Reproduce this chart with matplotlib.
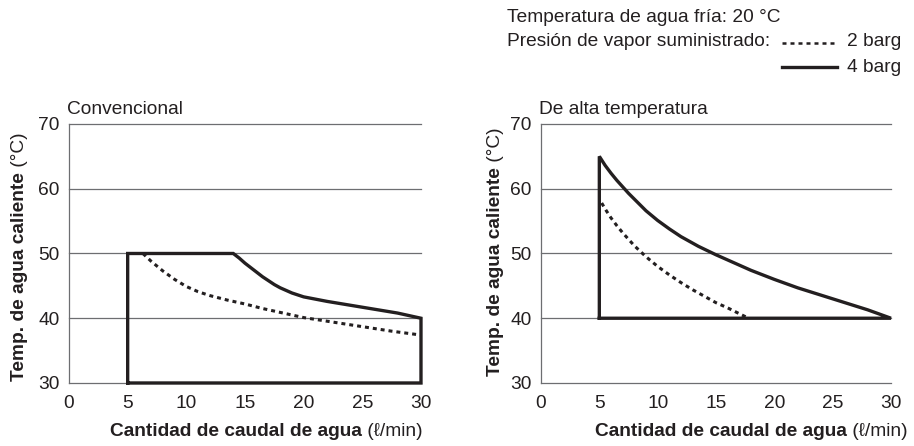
import matplotlib
matplotlib.use('Agg')
import matplotlib.pyplot as plt

plt.rcParams['font.family'] = ['Liberation Sans', 'DejaVu Sans']
txtc = '#231f20'
gridc = '#6d6e71'
fs = 13.8

# Convencional
conv_4_x = [5, 5, 14, 14.5, 15, 15.5, 16, 16.5, 17, 17.5, 18, 19, 20, 22, 25, 28, 30, 30, 5]
conv_4_y = [30, 50, 50, 49.3, 48.5, 47.8, 47.1, 46.4, 45.8, 45.2, 44.7, 43.9, 43.3, 42.6, 41.7, 40.8, 40, 30, 30]
conv_2_x = [6.3, 7, 8, 9, 10, 11, 12, 13.5, 15, 16.5, 18, 20, 22.5, 25, 27.5, 30]
conv_2_y = [50, 48.8, 47.3, 46.0, 44.9, 44.1, 43.5, 42.8, 42.2, 41.5, 40.9, 40.1, 39.4, 38.7, 38.0, 37.4]

# De alta temperatura
alta_4_x = [5, 5, 5.5, 6, 6.5, 7, 7.5, 8, 9, 10, 11, 12, 13.5, 15, 16.5, 18, 20, 22, 25, 28, 30, 5]
alta_4_y = [40, 65, 63.6, 62.4, 61.3, 60.3, 59.3, 58.4, 56.6, 55.1, 53.8, 52.6, 51.1, 49.8, 48.6, 47.4, 46.0, 44.7, 43.0, 41.3, 40, 40]
alta_2_x = [5.2, 5.6, 6, 6.5, 7, 7.5, 8, 9, 10, 11, 12, 13, 14, 15, 16, 17, 17.8]
alta_2_y = [57.8, 56.6, 55.5, 54.3, 53.2, 52.2, 51.2, 49.5, 48.0, 46.7, 45.5, 44.4, 43.4, 42.4, 41.6, 40.7, 40]

xticks = [0, 5, 10, 15, 20, 25, 30]
yticks = [30, 40, 50, 60, 70]
titles = ['Convencional', 'De alta temperatura']

fig = plt.figure(figsize=(9.14, 4.46), dpi=100)
ax1 = fig.add_axes([0.0755, 0.1413, 0.3851, 0.5807])
ax2 = fig.add_axes([0.5919, 0.1413, 0.3829, 0.5807])

series = [(conv_4_x, conv_4_y, conv_2_x, conv_2_y),
          (alta_4_x, alta_4_y, alta_2_x, alta_2_y)]

for ax, (sx, sy, dx, dy), title in zip([ax1, ax2], series, titles):
    ax.set_xlim(0, 30)
    ax.set_ylim(30, 70)
    ax.set_xticks(xticks)
    ax.set_yticks(yticks)
    for y in yticks:
        ax.axhline(y, color=gridc, lw=0.9, zorder=1, clip_on=False)
    for s in ['top', 'right', 'bottom']:
        ax.spines[s].set_visible(False)
    ax.spines['left'].set_color(gridc)
    ax.spines['left'].set_linewidth(0.9)
    ax.tick_params(length=0, labelsize=fs, labelcolor=txtc)
    ax.tick_params(axis='x', pad=9)
    ax.tick_params(axis='y', pad=7)
    ax.plot(dx, dy, color='#231f20', lw=2.2, linestyle=(0, (1.3, 1.3)), zorder=3, clip_on=False)
    ax.plot(sx, sy, color='#231f20', lw=2.4, zorder=4, clip_on=False, solid_joinstyle='miter')
    ax.text(-0.005, 1.025, title, transform=ax.transAxes, fontsize=fs, color=txtc, va='bottom', ha='left')

# axis labels with bold + regular parts
def ylab(x, y):
    t = fig.text(x, y, 'Temp. de agua caliente', rotation=90, fontsize=fs, fontweight='bold',
                 color=txtc, ha='center', va='bottom')
    ax1.annotate(' (°C)', xy=(0.5, 1), xycoords=t, rotation=90, fontsize=fs, color=txtc,
                 ha='center', va='bottom', annotation_clip=False)

def xlab(x, y):
    t = fig.text(x, y, 'Cantidad de caudal de agua', fontsize=fs, fontweight='bold',
                 color=txtc, ha='left', va='center')
    ax1.annotate(' (ℓ/min)', xy=(1, 0.5), xycoords=t, fontsize=fs, color=txtc,
                 ha='left', va='center', annotation_clip=False)

ylab(20 / 914, 1 - 381 / 446)
ylab(495 / 914, 1 - 376 / 446)
xlab(110 / 914, 1 - 432 / 446)
xlab(595 / 914, 1 - 432 / 446)

# header / legend
fig.text(507 / 914, 1 - 17 / 446, 'Temperatura de agua fría: 20 °C', fontsize=fs, color=txtc, va='center')
fig.text(507 / 914, 1 - 42 / 446, 'Presión de vapor suministrado:', fontsize=fs, color=txtc, va='center')
fig.text(847 / 914, 1 - 42 / 446, '2 barg', fontsize=fs, color=txtc, va='center')
fig.text(847 / 914, 1 - 67 / 446, '4 barg', fontsize=fs, color=txtc, va='center')
fig.add_artist(plt.Line2D([782 / 914, 837 / 914], [1 - 43 / 446] * 2, color='#231f20', lw=1.8,
                          linestyle=(0, (1.6, 1.6))))
fig.add_artist(plt.Line2D([782 / 914, 837 / 914], [1 - 67 / 446] * 2, color='#231f20', lw=2.4))

plt.savefig('out.png', dpi=100, facecolor='white')
